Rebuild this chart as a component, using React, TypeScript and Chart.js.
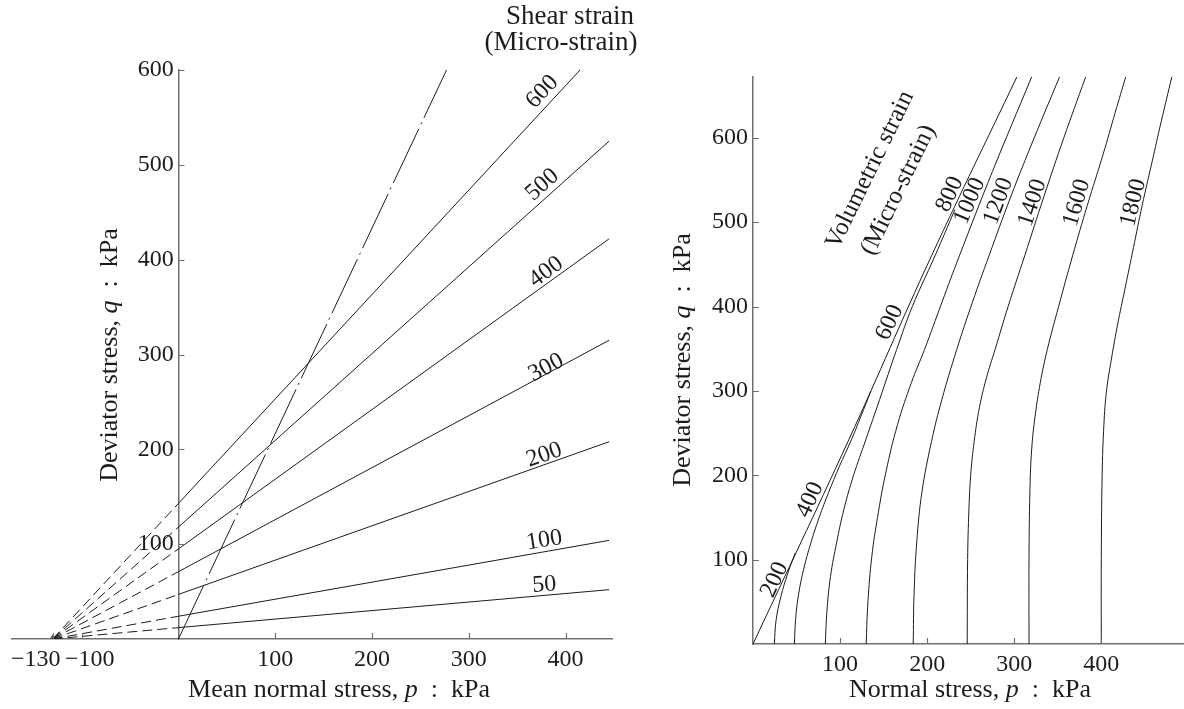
import React, { useEffect, useRef } from 'react';
import { Chart, registerables } from 'chart.js';
Chart.register(...registerables);

const SERIF = '"Liberation Serif", "DejaVu Serif", serif';
const INK = '#1c1c1c';
const AXIS = '#707070';
const FS = 24;
const TFS = 26;

// ---------- Left panel: shear strain contours ----------
const shearLevels = ['600', '500', '400', '300', '200', '100', '50'];
const shearPoleP = -130;
const shearAxisQ = [143, 118, 95, 71, 47, 24, 12];
const shearEndP = [415, 445, 445, 445, 445, 445, 445];
const shearEndQ = [600, 525, 422, 315, 208, 104, 52];
const pathP = [0, 277];
const pathQ = [0, 600];
const leftXTicks = [100, 200, 300, 400];
const leftXTickA = [-130];
const leftXTickB = [-100];
const leftYTicks = [100, 200, 300, 400, 500, 600];

// ---------- Right panel: volumetric strain contours ----------
const envelopeP = [0, 110, 205, 303];
const envelopeQ = [0, 242, 460, 672];
const c200P = [24.5, 26.5, 32, 40, 48.5];
const c200Q = [0, 28, 56, 84, 108];
const c400P = [47.5, 49, 52.5, 58.5, 66.5, 76, 87, 99, 113, 124, 135.5];
const c400Q = [0, 30, 60, 90, 120, 150, 180, 210, 242, 270, 300];
const c600P = [83, 85, 89, 96, 104.5, 115.5, 129.5, 145.5, 165, 183, 209, 232];
const c600Q = [0, 40, 80, 120, 160, 200, 242, 290, 349, 400, 460, 515];
const c1000P = [130, 132, 136.5, 143, 152.5, 166, 182, 197, 217, 237, 275, 320];
const c1000Q = [0, 50, 104, 150, 203, 260, 310, 349, 405, 460, 560, 672];
const c1200P = [184, 185, 188, 194, 205, 217, 234, 252, 271, 296, 323, 352];
const c1200Q = [0, 60, 120, 180, 240, 290, 349, 405, 460, 530, 600, 672];
const c1400P = [246, 246.5, 248, 250, 254, 260, 268, 278, 293, 312, 334, 357, 382];
const c1400Q = [0, 100, 160, 200, 240, 280, 315, 349, 400, 460, 530, 600, 672];
const c1600P = [317, 317, 318, 320, 324, 330, 338, 351, 367, 384, 402, 416, 428];
const c1600Q = [0, 100, 180, 230, 270, 310, 349, 400, 460, 520, 580, 630, 672];
const c1800P = [400, 400, 401, 403, 406, 412, 419, 427, 437, 447, 458, 469, 481];
const c1800Q = [0, 100, 200, 260, 300, 340, 380, 420, 470, 520, 570, 620, 672];
const rightXTicks = [100, 200, 300, 400];
const rightYTicks = [100, 200, 300, 400, 500, 600];

// ---------- annotation anchors (data coordinates) ----------
const shearLabelAt = [
  { p: 376, q: 577, a: -47 },
  { p: 376, q: 479, a: -42 },
  { p: 380, q: 387, a: -36 },
  { p: 380, q: 286, a: -28 },
  { p: 378, q: 194, a: -19 },
  { p: 378, q: 104, a: -9 },
  { p: 378, q: 57, a: -4 },
];
const volLabels = ['200', '400', '600', '800', '1000', '1200', '1400', '1600', '1800'];
const volLabelAt = [
  { p: 25, q: 76, a: -65 },
  { p: 65.5, q: 171, a: -65 },
  { p: 157, q: 381, a: -65 },
  { p: 226, q: 533, a: -65 },
  { p: 249, q: 525, a: -67 },
  { p: 282, q: 525, a: -70 },
  { p: 321, q: 523, a: -72 },
  { p: 372, q: 523, a: -74 },
  { p: 437, q: 523, a: -76 },
];

type Seg = { t: string; i?: boolean };

function drawRich(ctx: CanvasRenderingContext2D, segs: Seg[], x: number, y: number, angleDeg: number, size = FS) {
  ctx.save();
  ctx.translate(x, y);
  ctx.rotate((angleDeg * Math.PI) / 180);
  ctx.textBaseline = 'middle';
  ctx.textAlign = 'left';
  ctx.fillStyle = INK;
  const fonts = segs.map((s) => `${s.i ? 'italic ' : ''}${size}px ${SERIF}`);
  const widths = segs.map((s, k) => {
    ctx.font = fonts[k];
    return ctx.measureText(s.t).width;
  });
  const total = widths.reduce((a, b) => a + b, 0);
  let cx = -total / 2;
  segs.forEach((s, k) => {
    ctx.font = fonts[k];
    ctx.fillText(s.t, cx, 0);
    cx += widths[k];
  });
  ctx.restore();
}

const fmt = (v: number) => (v < 0 ? '\u2212' + Math.abs(v) : String(v));

function tickMarks(chart: any) {
  const ctx = chart.ctx;
  const xs = chart.scales.x;
  const ys = chart.scales.y;
  const ax = xs.getPixelForValue(0);
  const ay = ys.getPixelForValue(0);
  ctx.save();
  ctx.strokeStyle = AXIS;
  ctx.lineWidth = 1.2;
  ctx.beginPath();
  Object.values(chart.scales).forEach((s: any) => {
    if (s.isHorizontal()) {
      s.ticks.forEach((t: any) => {
        const px = Math.round(s.getPixelForValue(t.value)) + 0.5;
        ctx.moveTo(px, ay);
        ctx.lineTo(px, ay - 6);
      });
    } else {
      s.ticks.forEach((t: any) => {
        const py = Math.round(s.getPixelForValue(t.value)) + 0.5;
        ctx.moveTo(ax, py);
        ctx.lineTo(ax + 6, py);
      });
    }
  });
  ctx.stroke();
  ctx.restore();
}

function axisOpts(min: number, max: number, ticks: number[], extra: any, tickExtra: any = {}) {
  return {
    type: 'linear',
    min,
    max,
    afterBuildTicks: (s: any) => {
      s.ticks = ticks.map((v) => ({ value: v }));
    },
    grid: { display: false, drawTicks: false },
    border: { display: true, color: AXIS, width: 1.5 },
    ticks: {
      font: { family: SERIF, size: FS },
      color: INK,
      maxRotation: 0,
      autoSkip: false,
      padding: 6,
      callback: (v: any) => fmt(Number(v)),
      ...tickExtra,
    },
    ...extra,
  };
}

const colonSegs = (name: string, sym: string): Seg[] => [
  { t: name + ', ' },
  { t: sym, i: true },
  { t: '\u2002:\u2002kPa' },
];

function LeftChart() {
  const ref = useRef<HTMLCanvasElement>(null);
  useEffect(() => {
    const datasets: any[] = shearLevels.map((lv, i) => ({
      label: lv,
      data: [
        { x: shearPoleP, y: 0 },
        { x: 0, y: shearAxisQ[i] },
        { x: shearEndP[i], y: shearEndQ[i] },
      ],
      showLine: true,
      borderColor: INK,
      borderWidth: 1,
      pointRadius: 0,
      segment: { borderDash: (c: any) => (c.p0DataIndex === 0 ? [10, 5] : undefined) },
    }));
    datasets.push({
      label: 'path',
      data: pathP.map((p, i) => ({ x: p, y: pathQ[i] })),
      showLine: true,
      borderColor: INK,
      borderWidth: 1,
      borderDash: [60, 5, 2, 5],
      pointRadius: 0,
    });
    datasets.push({
      label: 'pole',
      data: [{ x: shearPoleP, y: 0 }],
      showLine: false,
      pointStyle: 'triangle',
      pointRadius: 4,
      backgroundColor: '#555',
      borderColor: '#555',
    });
    const deco = {
      id: 'decoL',
      afterDraw(chart: any) {
        const ctx = chart.ctx;
        const xs = chart.scales.x;
        const ys = chart.scales.y;
        tickMarks(chart);
        shearLevels.forEach((lv, i) => {
          const a = shearLabelAt[i];
          drawRich(ctx, [{ t: lv }], xs.getPixelForValue(a.p), ys.getPixelForValue(a.q), a.a);
        });
        drawRich(ctx, [{ t: 'Shear strain' }], 570, 17, 0, 27);
        drawRich(ctx, [{ t: '(Micro-strain)' }], 561, 43, 0, 27);
        drawRich(ctx, colonSegs('Mean normal stress', 'p'), 339, 690, 0, TFS);
        drawRich(ctx, colonSegs('Deviator stress', 'q'), 110, 355, -90, TFS);
      },
    };
    const chart = new Chart(ref.current!, {
      type: 'scatter',
      data: { datasets },
      options: {
        animation: false,
        responsive: false,
        maintainAspectRatio: false,
        layout: { padding: { left: 12, right: 33, top: 70, bottom: 0 } },
        plugins: { legend: { display: false }, tooltip: { enabled: false } },
        scales: {
          x: axisOpts(-172, 448, leftXTicks, {
            position: 'bottom',
            afterFit: (s: any) => {
              s.height = 70;
            },
          }),
          xa: axisOpts(-172, 448, leftXTickA, { position: { y: 0 }, border: { display: false } }, { labelOffset: -17 }),
          xb: axisOpts(-172, 448, leftXTickB, { position: { y: 0 }, border: { display: false } }, { labelOffset: 8 }),
          y: axisOpts(0, 600, leftYTicks, { position: { x: 0 } }, {
            padding: 5,
            callback: (v: any) => fmt(Number(v)) + '\u2009',
          }),
        } as any,
      },
      plugins: [deco],
    } as any);
    return () => chart.destroy();
  }, []);
  return <canvas ref={ref} width={645} height={709} style={{ position: 'absolute', left: 0, top: 0, width: 645, height: 709 }} />;
}

function RightChart() {
  const ref = useRef<HTMLCanvasElement>(null);
  useEffect(() => {
    const curves: [number[], number[]][] = [
      [envelopeP, envelopeQ],
      [c200P, c200Q],
      [c400P, c400Q],
      [c600P, c600Q],
      [c1000P, c1000Q],
      [c1200P, c1200Q],
      [c1400P, c1400Q],
      [c1600P, c1600Q],
      [c1800P, c1800Q],
    ];
    const datasets = curves.map(([P, Q], i) => ({
      label: 'c' + i,
      data: P.map((p, k) => ({ x: p, y: Q[k] })),
      showLine: true,
      borderColor: INK,
      borderWidth: 1,
      pointRadius: 0,
      tension: 0.4,
    }));
    const deco = {
      id: 'decoR',
      afterDraw(chart: any) {
        const ctx = chart.ctx;
        const xs = chart.scales.x;
        const ys = chart.scales.y;
        tickMarks(chart);
        volLabels.forEach((lv, i) => {
          const a = volLabelAt[i];
          drawRich(ctx, [{ t: lv }], xs.getPixelForValue(a.p), ys.getPixelForValue(a.q), a.a);
        });
        drawRich(ctx, [{ t: 'Volumetric strain' }], xs.getPixelForValue(134.5), ys.getPixelForValue(562), -64, 25);
        drawRich(ctx, [{ t: '(Micro-strain)' }], xs.getPixelForValue(167), ys.getPixelForValue(538), -64, 25);
        drawRich(ctx, colonSegs('Normal stress', 'p'), 325, 690, 0, TFS);
        drawRich(ctx, colonSegs('Deviator stress', 'q'), 38, 360, -90, TFS);
      },
    };
    const chart = new Chart(ref.current!, {
      type: 'scatter',
      data: { datasets },
      options: {
        animation: false,
        responsive: false,
        maintainAspectRatio: false,
        layout: { padding: { left: 0, right: 0, top: 77, bottom: 0 } },
        plugins: { legend: { display: false }, tooltip: { enabled: false } },
        scales: {
          x: axisOpts(0, 495, rightXTicks, {
            position: 'bottom',
            afterFit: (s: any) => {
              s.height = 65;
            },
          }),
          y: axisOpts(0, 672, rightYTicks, {
            position: 'left',
            afterFit: (s: any) => {
              s.width = 108;
            },
          }, { padding: 5 }),
        } as any,
      },
      plugins: [deco],
    } as any);
    return () => chart.destroy();
  }, []);
  return <canvas ref={ref} width={539} height={709} style={{ position: 'absolute', left: 645, top: 0, width: 539, height: 709 }} />;
}

export default function App() {
  return (
    <div style={{ position: 'absolute', left: 0, top: 0, width: 1184, height: 709, background: '#fff', overflow: 'hidden' }}>
      <LeftChart />
      <RightChart />
    </div>
  );
}
